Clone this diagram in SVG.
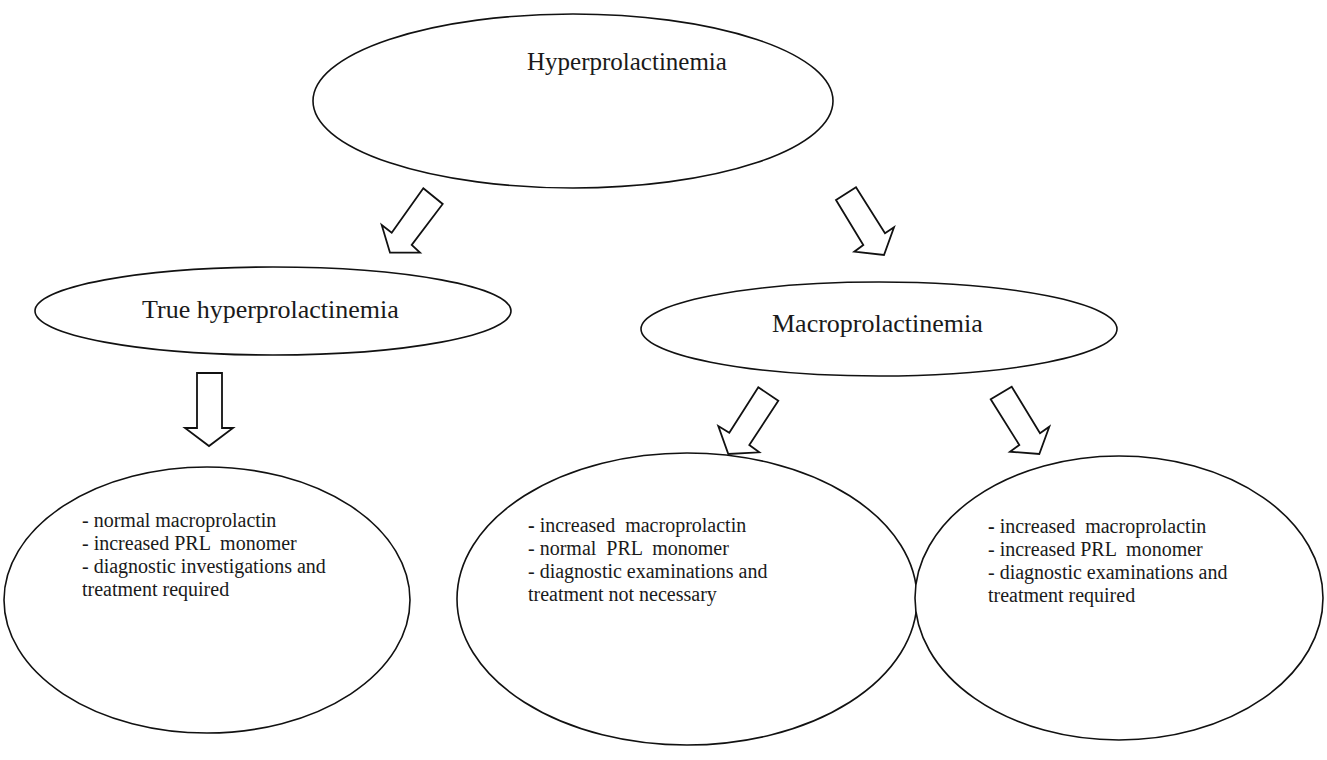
<svg xmlns="http://www.w3.org/2000/svg" width="1327" height="760" viewBox="0 0 1327 760">
<style>
.n{fill:#fff;stroke:#111;stroke-width:1.6}
.a{fill:#fff;stroke:#111;stroke-width:1.8;stroke-linejoin:miter}
.t{font-family:"Liberation Serif","Times New Roman",serif;fill:#1a1a1a}
.h{font-size:25px}
.s{font-size:26px}
.b{font-size:20px}
.d{font-weight:bold}
</style>
<rect width="1327" height="760" fill="#fff"/>
<g id="connectors">
<polygon class="a" points="423.3,188.3 442.7,204 411.7,245 420,252.7 390,252.7 381.7,225 391.7,232.7"/>
<polygon class="a" points="836,200 856,187.3 885,233.3 894,227.3 884,255 854.3,251.7 863.3,245"/>
<polygon class="a" points="197,373 222,373 222,428 233,428 209,446 185,428 197,428"/>
<polygon class="a" points="758.3,387.3 778.3,400.7 749.3,445 759.3,452.3 728.3,454 718.3,426 729.3,432.7"/>
<polygon class="a" points="990.7,399.3 1011.7,386.7 1040,433.3 1049.3,426.7 1039.3,454 1010,451.7 1019.3,445"/>
</g>
<g id="hyper">
<ellipse class="n" cx="573" cy="101" rx="260" ry="87"/>
<text class="t h" x="527" y="70">Hyperprolactinemia</text>
</g>
<g id="true">
<ellipse class="n" cx="273" cy="311" rx="238" ry="44"/>
<text class="t s" x="142" y="318">True hyperprolactinemia</text>
</g>
<g id="macro">
<ellipse class="n" cx="879" cy="329" rx="238" ry="47"/>
<text class="t s" x="772" y="332">Macroprolactinemia</text>
</g>
<g id="leaf1">
<ellipse class="n" cx="207" cy="600" rx="203" ry="133"/>
<text class="t b" xml:space="preserve"><tspan x="82" y="527">- normal macroprolactin</tspan><tspan x="82" y="550">- increased PRL  monomer</tspan><tspan x="82" y="573">- diagnostic investigations and</tspan><tspan x="82" y="596">treatment required</tspan></text>
</g>
<g id="leaf2">
<ellipse class="n" cx="687" cy="599" rx="230" ry="146"/>
<text class="t b" xml:space="preserve"><tspan x="528" y="532"><tspan class="d">-</tspan> increased  macroprolactin</tspan><tspan x="528" y="555">- normal  PRL  monomer</tspan><tspan x="528" y="578">- diagnostic examinations and</tspan><tspan x="528" y="601">treatment not necessary</tspan></text>
</g>
<g id="leaf3">
<ellipse class="n" cx="1119" cy="598" rx="204" ry="142"/>
<text class="t b" xml:space="preserve"><tspan x="988" y="533"><tspan class="d">-</tspan> increased  macroprolactin</tspan><tspan x="988" y="556">- increased PRL  monomer</tspan><tspan x="988" y="579">- diagnostic examinations and</tspan><tspan x="988" y="602">treatment required</tspan></text>
</g>
</svg>
